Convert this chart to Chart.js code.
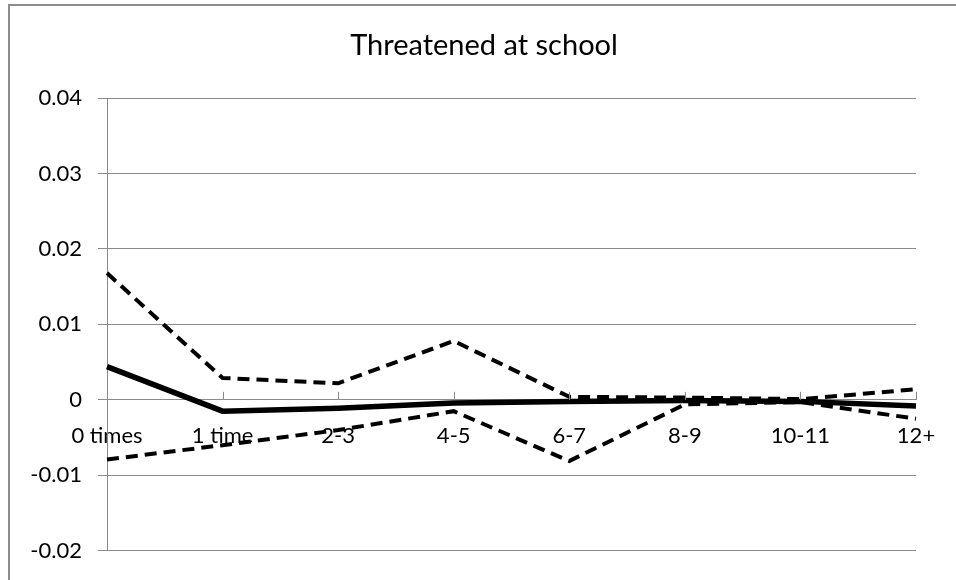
<!DOCTYPE html>
<html>
<head>
<meta charset="utf-8">
<script src="https://cdn.jsdelivr.net/npm/chart.js@4.4.0/dist/chart.umd.min.js"></script>
<style>
  html, body { margin: 0; padding: 0; background: #fff; }
  #wrap { width: 956px; height: 580px; }
</style>
</head>
<body>
<div id="wrap"><canvas id="myChart" width="956" height="580"></canvas></div>
<script>
// categorie sull'asse x
var categories = ['0 times', '1 time', '2-3', '4-5', '6-7', '8-9', '10-11', '12+'];
// serie: stima centrale (linea continua) e limiti (tratteggiate)
var estimate = [0.0044, -0.0015, -0.0011, -0.0004, -0.0002, -0.0001, -0.0002, -0.0008];
var upperBound = [0.0168, 0.0029, 0.0022, 0.0078, 0.0004, 0.0003, 0.0001, 0.0014];
var lowerBound = [-0.0079, -0.0060, -0.0040, -0.0015, -0.0081, -0.0006, -0.0003, -0.0025];
// etichette dell'asse y
var yTickLabels = ['-0.02', '-0.01', '0', '0.01', '0.02', '0.03', '0.04'];
var yMin = -0.02, yMax = 0.04, yStep = 0.01;
var chartTitle = 'Threatened at school';

var FONT = 'Lato, "Open Sans", sans-serif';
var GRID = '#8a8a8a';

// cornice esterna, titolo e piccole tacche sull'asse x
var extras = {
    id: 'extras',
    beforeDraw: function(chart){
        var c = chart.ctx;
        c.save();
        c.strokeStyle = '#8c8c8c';
        c.lineWidth = 2;
        c.beginPath();
        c.moveTo(9, 600);
        c.lineTo(9, 5);
        c.lineTo(960, 5);
        c.stroke();
        // titolo
        c.fillStyle = '#000';
        c.font = '29px ' + FONT;
        c.textAlign = 'center';
        c.textBaseline = 'middle';
        c.fillText(chartTitle, 484, 46);
        c.restore();
    },
    afterDatasetsDraw: function(chart){
        var c = chart.ctx;
        var xs = chart.scales.x, ys = chart.scales.y;
        var y0 = ys.getPixelForValue(0);
        c.save();
        c.strokeStyle = GRID;
        c.lineWidth = 1;
        for (var i = 1; i < categories.length; i++) {
            var x = Math.round(xs.getPixelForValue(i)) + 0.5;
            c.beginPath();
            c.moveTo(x, y0 - 8);
            c.lineTo(x, y0);
            c.stroke();
        }
        c.restore();
    }
};

var ctx = document.getElementById('myChart').getContext('2d');
var myChart = new Chart(ctx, {
    type: 'line',
    data: {
        labels: categories,
        datasets: [{
            label: 'upper',
            data: upperBound,
            borderColor: '#000',
            borderWidth: 4,
            borderDash: [12, 7],
            pointRadius: 0,
            tension: 0
        }, {
            label: 'estimate',
            data: estimate,
            borderColor: '#000',
            borderWidth: 5.5,
            pointRadius: 0,
            tension: 0
        }, {
            label: 'lower',
            data: lowerBound,
            borderColor: '#000',
            borderWidth: 4,
            borderDash: [12, 7],
            pointRadius: 0,
            tension: 0
        }]
    },
    options: {
        responsive: false,
        animation: false,
        layout: { padding: { left: 0, right: 40, top: 98, bottom: 29 } },
        plugins: {
            legend: { display: false },
            tooltip: { enabled: false },
            title: { display: false }
        },
        scales: {
            x: {
                type: 'category',
                position: { y: 0 },
                offset: false,
                grid: { display: false },
                border: { color: GRID, width: 1 },
                ticks: {
                    color: '#000',
                    font: { family: FONT, size: 22 },
                    padding: 15,
                    maxRotation: 0,
                    autoSkip: false
                }
            },
            y: {
                min: yMin,
                max: yMax,
                afterFit: function(scale){ scale.width = 107; },
                afterBuildTicks: function(scale){
                    scale.ticks = yTickLabels.map(function(t){ return { value: parseFloat(t) }; });
                },
                grid: { color: GRID, lineWidth: 1, tickLength: 9 },
                border: { color: GRID, width: 1 },
                ticks: {
                    stepSize: yStep,
                    color: '#000',
                    font: { family: FONT, size: 22 },
                    padding: 16,
                    callback: function(value, index){ return yTickLabels[index]; }
                }
            }
        }
    },
    plugins: [extras]
});
</script>
</body>
</html>
